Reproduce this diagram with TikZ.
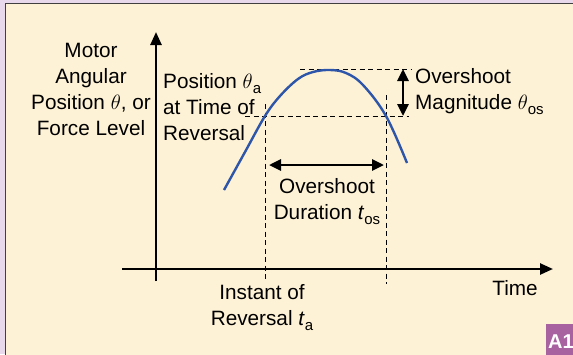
\documentclass[tikz,border=0pt]{standalone}
\usepackage{fontspec}
\setmainfont{Liberation Sans}
\usetikzlibrary{arrows.meta,positioning}
\definecolor{creambg}{RGB}{254,242,214}
\definecolor{framepurple}{RGB}{232,218,236}
\definecolor{badgepurple}{RGB}{168,98,160}
\definecolor{curveblue}{RGB}{45,85,170}
\newcommand{\lowsub}[1]{\raisebox{-5pt}{\fontsize{15}{15}\selectfont #1}}
\tikzset{
    axisline/.style={
        line width=2.5pt,
        -{Triangle[length=13pt,width=11pt]}
    },
    spanarrow/.style={
        line width=2.8pt,
        {Triangle[length=12pt,width=11pt]}-{Triangle[length=12pt,width=11pt]}
    },
    guideline/.style={
        dashed,
        dash pattern=on 5pt off 3.5pt,
        line width=1pt
    },
    annot/.style={
        inner sep=0pt,
        font=\fontsize{20.74}{26}\selectfont
    },
    response/.style={
        curveblue,
        line width=2.4pt
    },
    badge/.style={
        inner sep=0pt,
        text=white,
        font=\fontsize{20}{20}\selectfont\bfseries
    }
}

\begin{document}
\begin{tikzpicture}[x=1pt,y=-1pt]
    \useasboundingbox (0,0) rectangle (573,354);
    % Background and frame
    \fill[framepurple] (0,0) rectangle (573,354);
    \filldraw[fill=creambg, draw=black!75, line width=0.8pt] (5,3) rectangle (580,360);
    \fill[badgepurple] (546,324) rectangle (580,360);
    \node[badge, anchor=base west] (tag) at (548,348) {A1};

    % Axes
    \coordinate (xstart) at (122,269);
    \coordinate (xend) at (553,269);
    \coordinate (ybottom) at (156,281);
    \coordinate (ytop) at (156,32);
    \draw[axisline] (xstart) -- (xend);
    \draw[axisline] (ybottom) -- (ytop);

    % Guide lines
    \coordinate (tatop) at (265,104);
    \coordinate (tabottom) at (265,281);
    \coordinate (tostop) at (386,95);
    \coordinate (tosbottom) at (386,284);
    \coordinate (thetaleft) at (245,116);
    \coordinate (thetaright) at (409,116);
    \coordinate (peakleft) at (300,69);
    \coordinate (peakright) at (411,69);
    \draw[guideline] (tatop) -- (tabottom);
    \draw[guideline] (tostop) -- (tosbottom);
    \draw[guideline] (thetaleft) -- (thetaright);
    \draw[guideline] (peakleft) -- (peakright);

    % Response curve
    \draw[response] plot[smooth, tension=0.6] coordinates
        {(224,190) (245,152) (265,116) (280,96) (298,79) (313,72) (330,70) (346,73) (363,85) (386,116) (407,163)};

    % Overshoot spans
    \coordinate (durstart) at (269,165);
    \coordinate (durend) at (384,165);
    \coordinate (magtop) at (403,69);
    \coordinate (magbottom) at (403,116);
    \draw[spanarrow] (durstart) -- (durend);
    \draw[spanarrow] (magtop) -- (magbottom);

    % Labels
    \node[annot, align=center, anchor=north] (ylabel) at (91,43) {Motor\\Angular\\Position $\theta$, or\\Force Level};
    \node[annot, align=left, anchor=north west] (thetalabel) at (163,73) {Position $\theta$\lowsub{a}\\at Time of\\Reversal};
    \node[annot, align=left, anchor=north west] (maglabel) at (415,68) {Overshoot\\Magnitude $\theta$\lowsub{os}};
    \node[annot, align=center, anchor=north] (durlabel) at (327,178) {Overshoot\\Duration \textit{t}\lowsub{os}};
    \node[annot, align=center, anchor=north] (talabel) at (262,284) {Instant of\\Reversal \textit{t}\lowsub{a}};
    \node[annot, anchor=north] (timelabel) at (515,280) {Time};
\end{tikzpicture}
\end{document}
